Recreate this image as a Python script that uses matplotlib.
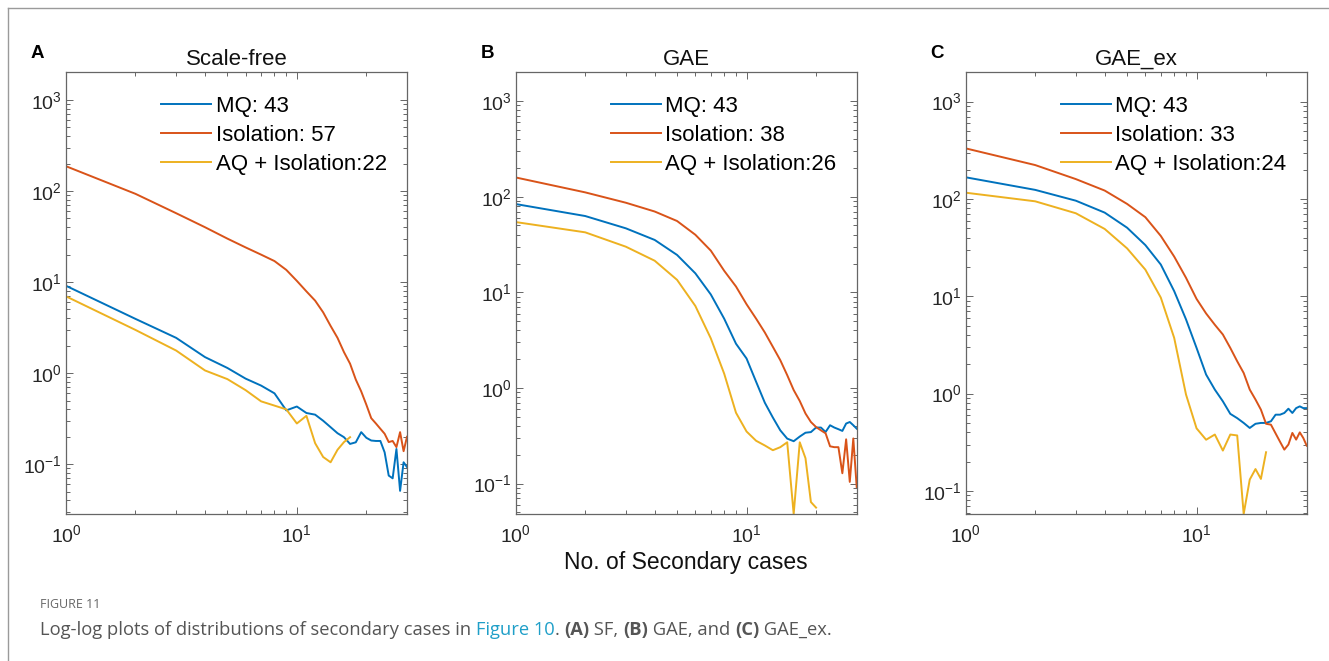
import matplotlib
matplotlib.use("Agg")
import matplotlib.pyplot as plt
from matplotlib.ticker import LogLocator, NullFormatter, LogFormatterSciNotation
from matplotlib.lines import Line2D

plt.rcParams['font.family'] = ['Liberation Sans', 'DejaVu Sans']
plt.rcParams['mathtext.default'] = 'regular'

# number of secondary cases (x axis)
x_cases = list(range(1, 31))

# panel A - scale-free
sf_mq = [9.1, 3.94, 2.44, 1.5, 1.14, 0.87, 0.73, 0.6, 0.39, 0.43,
         0.365, 0.35, 0.30, 0.255, 0.219, 0.198, 0.167, 0.174, 0.225, 0.195,
         0.182, 0.18, 0.18, 0.135, 0.075, 0.07, 0.147, 0.051, 0.105, 0.093]
sf_iso = [187, 93, 57, 40, 30, 24, 20, 17, 13.6, 10.3,
          7.9, 6.25, 4.65, 3.3, 2.44, 1.7, 1.27, 0.85, 0.63, 0.45,
          0.32, 0.28, 0.245, 0.216, 0.175, 0.18, 0.154, 0.225, 0.139, 0.2]
sf_aq = [6.97, 2.98, 1.77, 1.07, 0.86, 0.65, 0.49, 0.44, 0.40, 0.28,
         0.34, 0.17, 0.12, 0.105, 0.144, 0.175, 0.198]

# panel B - GAE
gae_mq = [83.8, 62.8, 46.7, 35.3, 24.6, 15.8, 9.5, 5.3, 2.9, 2.03,
          1.16, 0.70, 0.49, 0.36, 0.295, 0.277, 0.31, 0.34, 0.345, 0.385,
          0.385, 0.346, 0.407, 0.385, 0.37, 0.355, 0.424, 0.44, 0.407, 0.375]
gae_iso = [159, 111, 86.5, 70, 55.7, 40, 27.3, 16.8, 11.5, 7.5,
           5.3, 3.8, 2.69, 1.95, 1.36, 0.95, 0.73, 0.54, 0.44, 0.39,
           0.36, 0.335, 0.245, 0.24, 0.24, 0.128, 0.29, 0.104, 0.296, 0.092]
gae_aq = [54.3, 42.4, 30, 21.4, 13.5, 7.2, 3.3, 1.41, 0.55, 0.35,
          0.28, 0.25, 0.223, 0.24, 0.27, 0.048, 0.27, 0.184, 0.064, 0.056]

# panel C - GAE_ex
gaex_mq = [167, 124, 96, 72.4, 50.7, 33.6, 21.2, 11.3, 5.8, 2.95,
           1.57, 1.1, 0.834, 0.62, 0.56, 0.5, 0.444, 0.49, 0.5, 0.5,
           0.52, 0.608, 0.608, 0.633, 0.70, 0.633, 0.71, 0.74, 0.71, 0.71]
gaex_iso = [331, 223, 160, 122, 89, 65, 41.7, 25.6, 15.5, 9.4,
            6.66, 5.1, 4.05, 2.95, 2.15, 1.63, 1.1, 0.87, 0.685, 0.49,
            0.48, 0.39, 0.32, 0.266, 0.3, 0.395, 0.337, 0.4, 0.35, 0.292]
gaex_aq = [116, 94.6, 71.3, 49.2, 31.1, 18.8, 9.7, 3.74, 0.98, 0.44,
           0.336, 0.38, 0.26, 0.38, 0.372, 0.058, 0.131, 0.168, 0.133, 0.25]

titles = ["Scale-free", "GAE", "GAE_ex"]
letters = ["A", "B", "C"]
mq_labels = ["MQ: 43", "MQ: 43", "MQ: 43"]
iso_labels = ["Isolation: 57", "Isolation: 38", "Isolation: 33"]
aq_labels = ["AQ + Isolation:22", "AQ + Isolation:26", "AQ + Isolation:24"]
ylims = [(0.0284, 2040), (0.048, 2030), (0.058, 2030)]

panels = [(sf_mq, sf_iso, sf_aq), (gae_mq, gae_iso, gae_aq), (gaex_mq, gaex_iso, gaex_aq)]

c_blue = "#0072BD"
c_red = "#D95319"
c_yellow = "#EDB120"
frame_col = "#666666"

W, H = 1329, 661
fig = plt.figure(figsize=(W / 100, H / 100), dpi=100)

ax_lefts = [66, 515.7, 965.7]
ax_w = 341
ax_top, ax_bot = 71.7, 514

for i, (mq, iso, aq) in enumerate(panels):
    ax = fig.add_axes([ax_lefts[i] / W, (H - ax_bot) / H, ax_w / W, (ax_bot - ax_top) / H])
    ax.plot(x_cases[:len(mq)], mq, color=c_blue, lw=1.4, label=mq_labels[i])
    ax.plot(x_cases[:len(iso)], iso, color=c_red, lw=1.4, label=iso_labels[i])
    ax.plot(x_cases[:len(aq)], aq, color=c_yellow, lw=1.4, label=aq_labels[i])
    ax.set_xscale("log")
    ax.set_yscale("log")
    ax.set_xlim(1, 30)
    ax.set_ylim(*ylims[i])

    ax.xaxis.set_major_locator(LogLocator(base=10))
    ax.xaxis.set_minor_locator(LogLocator(base=10, subs=range(2, 10)))
    ax.xaxis.set_minor_formatter(NullFormatter())
    ax.yaxis.set_major_locator(LogLocator(base=10))
    ax.yaxis.set_minor_locator(LogLocator(base=10, subs=range(2, 10), numticks=20))
    ax.yaxis.set_minor_formatter(NullFormatter())
    ax.xaxis.set_major_formatter(LogFormatterSciNotation())
    ax.yaxis.set_major_formatter(LogFormatterSciNotation())

    ax.tick_params(which="both", direction="in", top=True, right=True,
                   color=frame_col, width=0.7, labelsize=14, labelcolor="#262626")
    ax.tick_params(which="major", length=5)
    ax.tick_params(which="minor", length=3)
    ax.tick_params(axis="x", pad=7)
    ax.tick_params(axis="y", pad=3)
    for sp in ax.spines.values():
        sp.set_color(frame_col)
        sp.set_linewidth(0.9)

    ax.set_title(titles[i], fontsize=16, pad=5, color="#111111")
    ax.legend(loc="upper left", bbox_to_anchor=(0.279, 0.945), frameon=False,
              fontsize=16, handlelength=2.25, handletextpad=0.2,
              labelspacing=0.36, borderpad=0, borderaxespad=0)

    fig.text((ax_lefts[i] - 35) / W, 1 - 53 / H, letters[i], fontsize=13.5,
             fontweight="bold", ha="left", va="center")

    if i == 1:
        ax.set_xlabel("No. of Secondary cases", fontsize=16.5, labelpad=4, color="#111111")

# page frame lines
fig.add_artist(Line2D([7.5 / W, 7.5 / W], [0, 1 - 8 / H], color="#9a9a9a", lw=1.0))
fig.add_artist(Line2D([7.5 / W, 1], [1 - 8 / H, 1 - 8 / H], color="#9a9a9a", lw=1.0))

# caption
cap = fig.add_axes([0, 0, 1, 1])
cap.axis("off")
cap.set_zorder(-1)
cap_font = ["Open Sans", "DejaVu Sans"]
cap_col = "#555555"
fig.text(40 / W, 1 - 604 / H, "FIGURE 11", fontsize=9, color="#666666",
         family=cap_font, va="center", ha="left")

parts = [
    ("Log-log plots of distributions of secondary cases in ", cap_col, "normal"),
    ("Figure 10", "#1f9fc8", "normal"),
    (". ", cap_col, "normal"),
    ("(A)", cap_col, "bold"),
    (" SF, ", cap_col, "normal"),
    ("(B)", cap_col, "bold"),
    (" GAE, and ", cap_col, "normal"),
    ("(C)", cap_col, "bold"),
    (" GAE_ex.", cap_col, "normal"),
]
prev = cap.text(40 / W, 1 - 639 / H, parts[0][0], fontsize=13.2, color=parts[0][1],
                family=cap_font, fontweight=parts[0][2], va="bottom", ha="left",
                transform=fig.transFigure)
for s, col, fw in parts[1:]:
    prev = cap.annotate(s, xy=(1, 0), xycoords=prev, va="bottom", ha="left",
                        fontsize=13.2, color=col, family=cap_font, fontweight=fw)

fig.savefig("out.png", dpi=100)
